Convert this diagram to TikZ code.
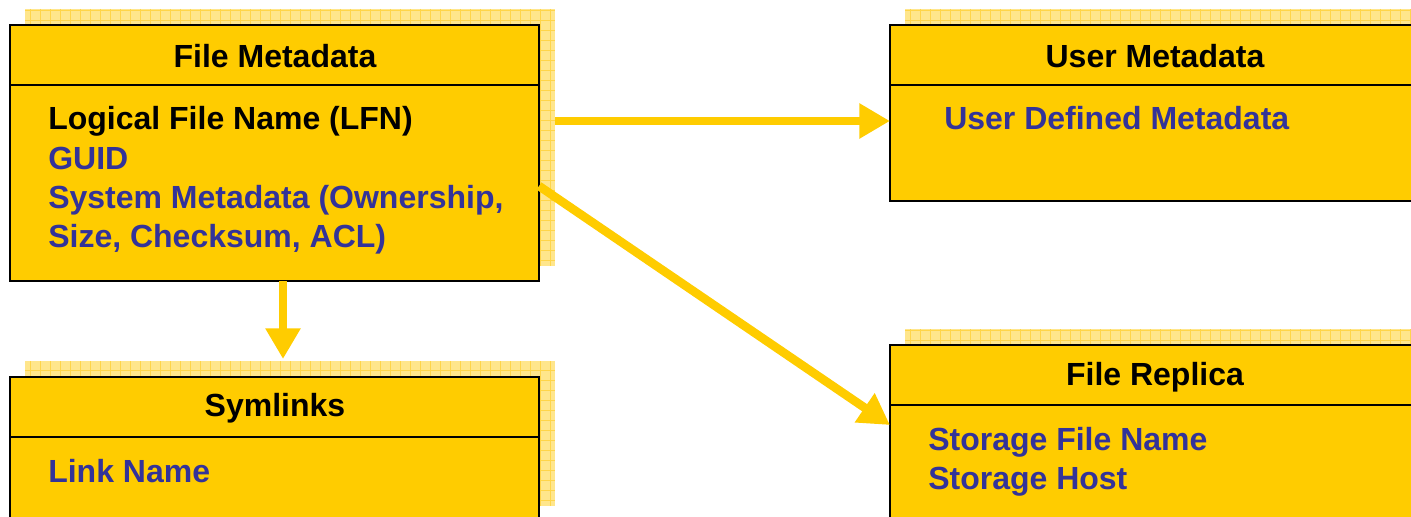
\documentclass[tikz,border=0pt]{standalone}
\usepackage{fontspec}
\setmainfont{Liberation Sans}
\usepackage{xcolor}
\usepackage{tikz}
\usetikzlibrary{arrows.meta}

\definecolor{boxyellow}{HTML}{FFCC00}
\definecolor{shadeyellow}{HTML}{FFE68C}
\definecolor{gridyellow}{HTML}{FFD54A}
\definecolor{itemblue}{HTML}{333399}

\tikzset{
  tablebox/.style={draw=black, line width=2.2pt, fill=boxyellow, anchor=north west, inner sep=0pt, outer sep=0pt},
  sepline/.style={line width=2.2pt},
  shade/.style={fill=shadeyellow},
  shadegrid/.style={draw=gridyellow, line width=0.6pt},
  flow/.style={draw=boxyellow, line width=6.5pt, -{Triangle[length=23pt,width=25pt]}},
  title/.style={font=\fontsize{24}{28}\selectfont\bfseries, inner sep=0.75pt},
  item/.style={font=\fontsize{24}{28}\selectfont\bfseries, text=itemblue, anchor=base west, inner sep=0.75pt}
}

\begin{document}
\begin{tikzpicture}[x=0.75pt,y=0.75pt,yscale=-1,xscale=1]
\useasboundingbox (0,0) rectangle (1411,517);

        %Shadows
        \fill[shade] (25,9) rectangle (555,266);
        \draw[shadegrid,step=10] (25,9) grid (555,266);
        \fill[shade] (25,361) rectangle (555,506);
        \draw[shadegrid,step=10] (25,361) grid (555,506);
        \fill[shade] (905,9) rectangle (1411,186);
        \draw[shadegrid,step=10] (905,9) grid (1411,186);
        \fill[shade] (905,329) rectangle (1411,517);
        \draw[shadegrid,step=10] (905,329) grid (1411,517);

        %Tables
        \node[tablebox, minimum width=396.75pt, minimum height=192pt] (fmeta) at (10,25) {};
        \node[tablebox, minimum width=396.75pt, minimum height=112.5pt] (symlinks) at (10,377) {};
        \node[tablebox, minimum width=397.5pt, minimum height=132pt] (umeta) at (890,25) {};
        \node[tablebox, minimum width=397.5pt, minimum height=135pt] (replica) at (890,345) {};

        %Header lines
        \draw[sepline] (10,85) -- (539,85);
        \draw[sepline] (10,437) -- (539,437);
        \draw[sepline] (890,85) -- (1420,85);
        \draw[sepline] (890,405) -- (1420,405);

        %Titles
        \node[title] (fmetaTitle) at (275,56) {File Metadata};
        \node[title] (symTitle) at (275,408) {Symlinks};
        \node[title] (umetaTitle) at (1155,56) {User Metadata};
        \node[title] (replicaTitle) at (1155,377) {File Replica};

        %Items
        \node[item, text=black] (lfn) at (47,130) {Logical File Name (LFN)};
        \node[item] (guid) at (47,169) {GUID};
        \node[item] (sysmeta) at (47,208) {System Metadata (Ownership,};
        \node[item] (sysmetaB) at (47,247) {Size, Checksum, ACL)};
        \node[item] (linkname) at (47,482) {Link Name};
        \node[item] (udm) at (943,130) {User Defined Metadata};
        \node[item] (sfn) at (927,450) {Storage File Name};
        \node[item] (shost) at (927,489) {Storage Host};

        %Arrows
        \coordinate (hstart) at (555,121);
        \coordinate (vtip) at (283,359);
        \coordinate (dstart) at (541,186);
        \coordinate (dtip) at (891,425);
        \draw[flow] (hstart) -- (umeta.west |- hstart);
        \draw[flow] (fmeta.south -| vtip) -- (vtip);
        \draw[flow] (fmeta.east |- dstart) -- (replica.west |- dtip);
\end{tikzpicture}
\end{document}
